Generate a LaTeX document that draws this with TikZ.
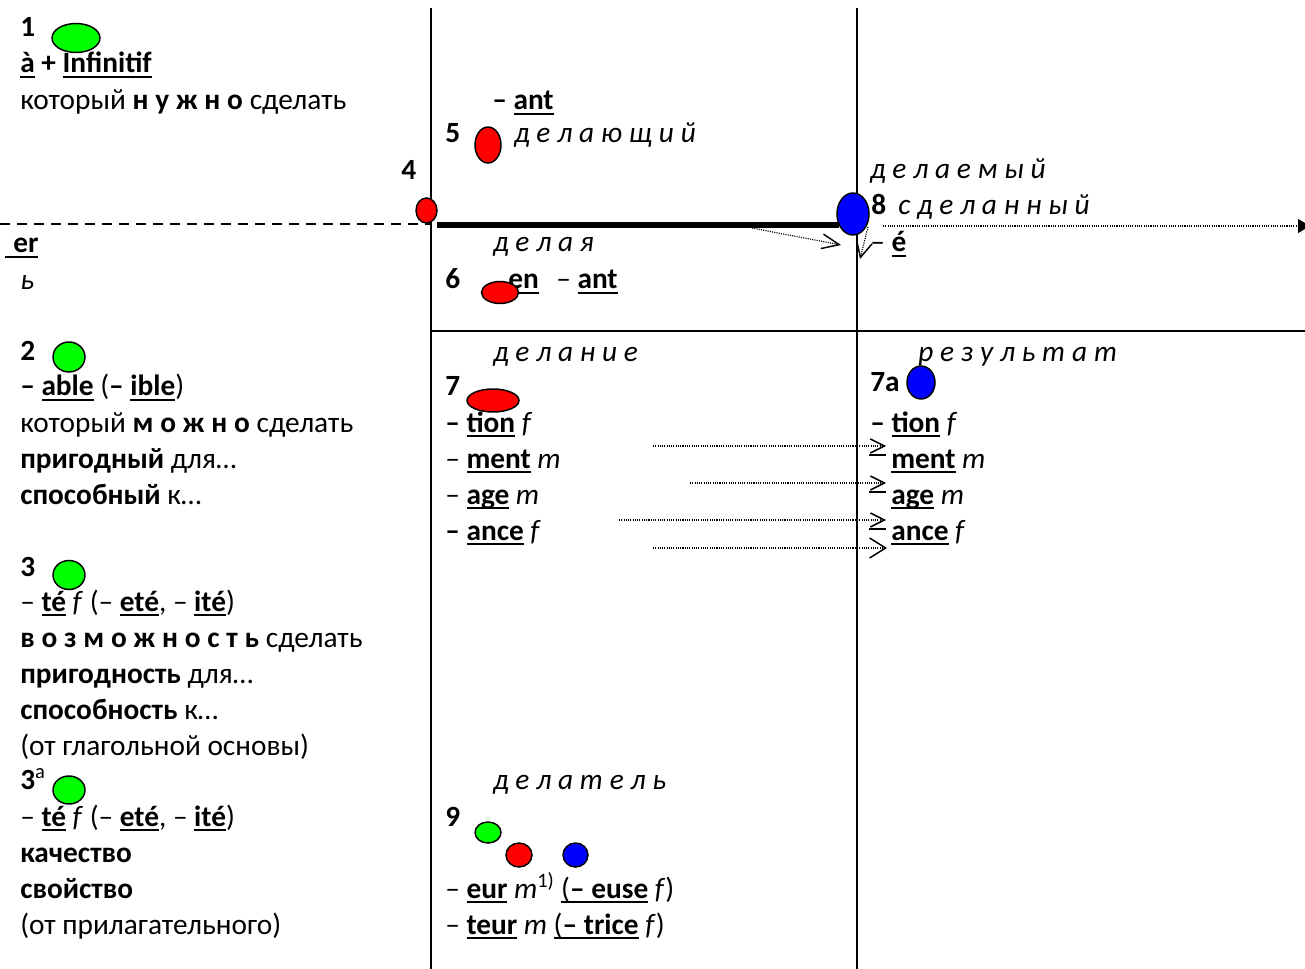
\documentclass[tikz,border=0pt]{standalone}
\usepackage{fontspec}
\setmainfont{Carlito}
\usetikzlibrary{shapes.geometric,arrows.meta}
% fixed-offset underline, as a word processor draws it
\newcommand\ulx[1]{\setbox0\hbox{#1}\rlap{\rule[-3.8pt]{\wd0}{1.5pt}}\box0\relax}
% letter-spaced words
\newcommand\spc[1]{{\addfontfeatures{LetterSpace=0.5}#1}}
\definecolor{dgreen}{RGB}{0,255,0}
\definecolor{dred}{RGB}{255,0,0}
\definecolor{dblue}{RGB}{0,0,255}
\tikzset{
  txt/.style={anchor=base west, inner sep=0pt, font=\fontsize{22}{26}\selectfont},
  blob/.style={ellipse, draw=black, line width=1.1pt, inner sep=0pt},
  rule/.style={line width=1.6pt},
  dotline/.style={line width=0.9pt, dash pattern=on 0.8pt off 0.9pt},
  barb/.style={-{Straight Barb[length=#1, width=#1, line width=1.1pt]}},
}
\begin{document}
\begin{tikzpicture}[x=0.75pt,y=-0.75pt]
\useasboundingbox (0,0) rectangle (1305,969);
\fill[white] (0,0) rectangle (1305,969);

% grid of the table
\coordinate (v1t) at (431,8);   \coordinate (v1b) at (431,969);
\coordinate (v2t) at (857,8);   \coordinate (v2b) at (857,969);
\coordinate (hl)  at (431,331); \coordinate (hr)  at (1305,331);
\draw[rule] (v1t) -- (v1b);
\draw[rule] (v2t) -- (v2b);
\draw[rule] (hl) -- (hr);
\coordinate (dl) at (0,224); \coordinate (dr) at (431,224);
\draw[line width=1.1pt, dash pattern=on 7.5pt off 5.25pt] (dl) -- (dr);

% left column
\node[txt] (n1) at (20,37) {\bfseries 1};
\node[txt] (inf) at (20,73) {\bfseries\ulx{à} + \ulx{Infinitif}};
\node[txt] (need) at (20,110) {который \textbf{\spc{н у ж н о}} сделать};
\node[txt] (er) at (5,253) {\ulx{\hspace{6pt}\bfseries er}};
\node[txt] (soft) at (20,290) {\itshape ь};
\node[txt] (n2) at (20,361) {\bfseries 2};
\node[txt] (able) at (20,396) {\textbf{– \ulx{able}} (\textbf{– \ulx{ible}})};
\node[txt] (can) at (20,432) {который \textbf{\spc{м о ж н о}} сделать};
\node[txt] (fit) at (20,468) {\textbf{пригодный} для…};
\node[txt] (apt) at (20,504) {\textbf{способный} к…};
\node[txt] (n3) at (20,576) {\bfseries 3};
\node[txt] (te1) at (20,611) {– \ulx{\textbf{té}} \textit{f} (– \ulx{\textbf{eté}}, – \ulx{\textbf{ité}})};
\node[txt] (poss) at (20,647) {\textbf{\spc{в о з м о ж н о с т ь}} сделать};
\node[txt] (fitn) at (20,683) {\textbf{пригодность} для…};
\node[txt] (aptn) at (20,719) {\textbf{способность} к…};
\node[txt] (verb) at (20,755) {(от глагольной основы)};
\node[txt] (n3a) at (20,789) {\textbf{3}\textsuperscript{a}};
\node[txt] (te2) at (20,826) {– \ulx{\textbf{té}} \textit{f} (– \ulx{\textbf{eté}}, – \ulx{\textbf{ité}})};
\node[txt] (qual) at (20,862) {\textbf{качество}};
\node[txt] (prop) at (20,898) {\textbf{свойство}};
\node[txt] (adj) at (20,934) {(от прилагательного)};

% middle column
\node[txt] (ant1) at (492,110) {\textbf{– \ulx{ant}}};
\node[txt] (n5) at (445,143) {\bfseries 5};
\node[txt] (doing) at (514,143) {\itshape\spc{д е л а ю щ и й}};
\node[txt] (n4) at (401,180) {\bfseries 4};
\node[txt] (ger) at (493,252) {\itshape\spc{д е л а я}};
\node[txt] (n6) at (445,289) {\bfseries 6};
\node[txt] (en) at (508,289) {\ulx{\textbf{en}}};
\node[txt] (ant2) at (556,289) {– \ulx{\textbf{ant}}};
\node[txt] (act) at (493,362) {\itshape\spc{д е л а н и е}};
\node[txt] (n7) at (445,396) {\bfseries 7};
\node[txt] (tion1) at (445,432) {\textbf{–} \ulx{\textbf{tion}} \textit{f}};
\node[txt] (ment1) at (445,468) {– \ulx{\textbf{ment}} \textit{m}};
\node[txt] (age1) at (445,504) {– \ulx{\textbf{age}} \textit{m}};
\node[txt] (ance1) at (445,540) {\textbf{–} \ulx{\textbf{ance}} \textit{f}};
\node[txt] (doer) at (493,789) {\itshape\spc{д е л а т е л ь}};
\node[txt] (n9) at (445,826) {\bfseries 9};
\node[txt] (eur) at (445,898) {– \ulx{\textbf{eur}} \textit{m}\textsuperscript{1)} \ulx{(\textbf{– euse}} \textit{f})};
\node[txt] (teur) at (445,934) {– \ulx{\textbf{teur}} \textit{m} \ulx{(\textbf{– trice}} \textit{f})};

% right column
\node[txt] (done1) at (870,179) {\itshape\spc{д е л а е м ы й}};
\node[txt] (n8) at (871,215) {\bfseries 8};
\node[txt] (done2) at (898,215) {\itshape\spc{с д е л а н н ы й}};
\node[txt] (ee) at (870,252) {– \ulx{\textbf{é}}};
\node[txt] (res) at (918,362) {\itshape\spc{р е з у л ь т а т}};
\node[txt] (n7a) at (870,392) {\bfseries 7a};
\node[txt] (tion2) at (870,432) {\textbf{–} \ulx{\textbf{tion}} \textit{f}};
\node[txt] (ment2) at (891,468) {\ulx{\textbf{ment}} \textit{m}};
\node[txt] (age2) at (891,504) {\ulx{\textbf{age}} \textit{m}};
\node[txt] (ance2) at (891,540) {\ulx{\textbf{ance}} \textit{f}};

% coloured markers
\node[blob, fill=dgreen, minimum width=36pt, minimum height=21.75pt] (g1) at (76,38) {};
\node[blob, fill=dgreen, minimum width=24pt, minimum height=22.5pt] (g2) at (69,357) {};
\node[blob, fill=dgreen, minimum width=24pt, minimum height=21.75pt] (g3) at (69,575) {};
\node[blob, fill=dgreen, minimum width=24pt, minimum height=21pt] (g3a) at (69,790) {};
\node[blob, fill=dred, minimum width=15.75pt, minimum height=18.75pt] (r4) at (426.5,210.5) {};
\node[blob, fill=dred, minimum width=19.5pt, minimum height=27pt] (r5) at (488,145) {};
\node[blob, fill=dred, minimum width=27.75pt, minimum height=16.5pt] (r6) at (500,292.5) {};
\node[blob, fill=dred, minimum width=39pt, minimum height=17.25pt] (r7) at (493,400.5) {};
\node[blob, fill=dblue, minimum width=21pt, minimum height=24.75pt] (b7a) at (921,382.5) {};
\node[blob, fill=dgreen, minimum width=19.5pt, minimum height=15.75pt] (g9) at (488,832.5) {};
\node[blob, fill=dred, minimum width=19.5pt, minimum height=18pt] (r9) at (519,855) {};
\node[blob, fill=dblue, minimum width=18.75pt, minimum height=18pt] (b9) at (575.5,855) {};

% heavy stroke into the blue marker 8
\coordinate (ts) at (437,225);
\draw[line width=5pt] (ts) -- (ts -| 839,0);
\node[blob, fill=dblue, minimum width=24pt, minimum height=31.5pt] (b8) at (853,214) {};

% dotted arrows around marker 8
\coordinate (fs) at (883,226); \coordinate (fe) at (1310,226);
\draw[dotline, -{Triangle[length=9pt, width=10.5pt]}] (fs) -- (fe);
\coordinate (ps) at (752,228); \coordinate (pe) at (841,245);
\draw[dotline, -{Straight Barb[length=13pt, width=11pt, line width=1.1pt]}] (ps) -- (pe);
\coordinate (qs) at (868,227); \coordinate (qe) at (860,259);
\draw[dotline, -{Straight Barb[length=12pt, width=12pt, line width=1.1pt]}] (qs) -- (qe);

% dotted arrows from column 7 to column 7a
\coordinate (a1s) at (653,446); \coordinate (a1e) at (886,446);
\coordinate (a2s) at (690,483); \coordinate (a2e) at (886,483);
\coordinate (a3s) at (619,520); \coordinate (a3e) at (886,520);
\coordinate (a4s) at (653,548); \coordinate (a4e) at (887,548);
\draw[dotline, barb=10.5pt] (a1s) -- (a1e);
\draw[dotline, barb=10.5pt] (a2s) -- (a2e);
\draw[dotline, barb=10.5pt] (a3s) -- (a3e);
\draw[dotline, -{Straight Barb[length=12pt, width=15pt, line width=1.1pt]}] (a4s) -- (a4e);
\foreach \yy in {455,492,529} \draw[line width=1.1pt] (869,\yy) -- (886,\yy);
\end{tikzpicture}
\end{document}
